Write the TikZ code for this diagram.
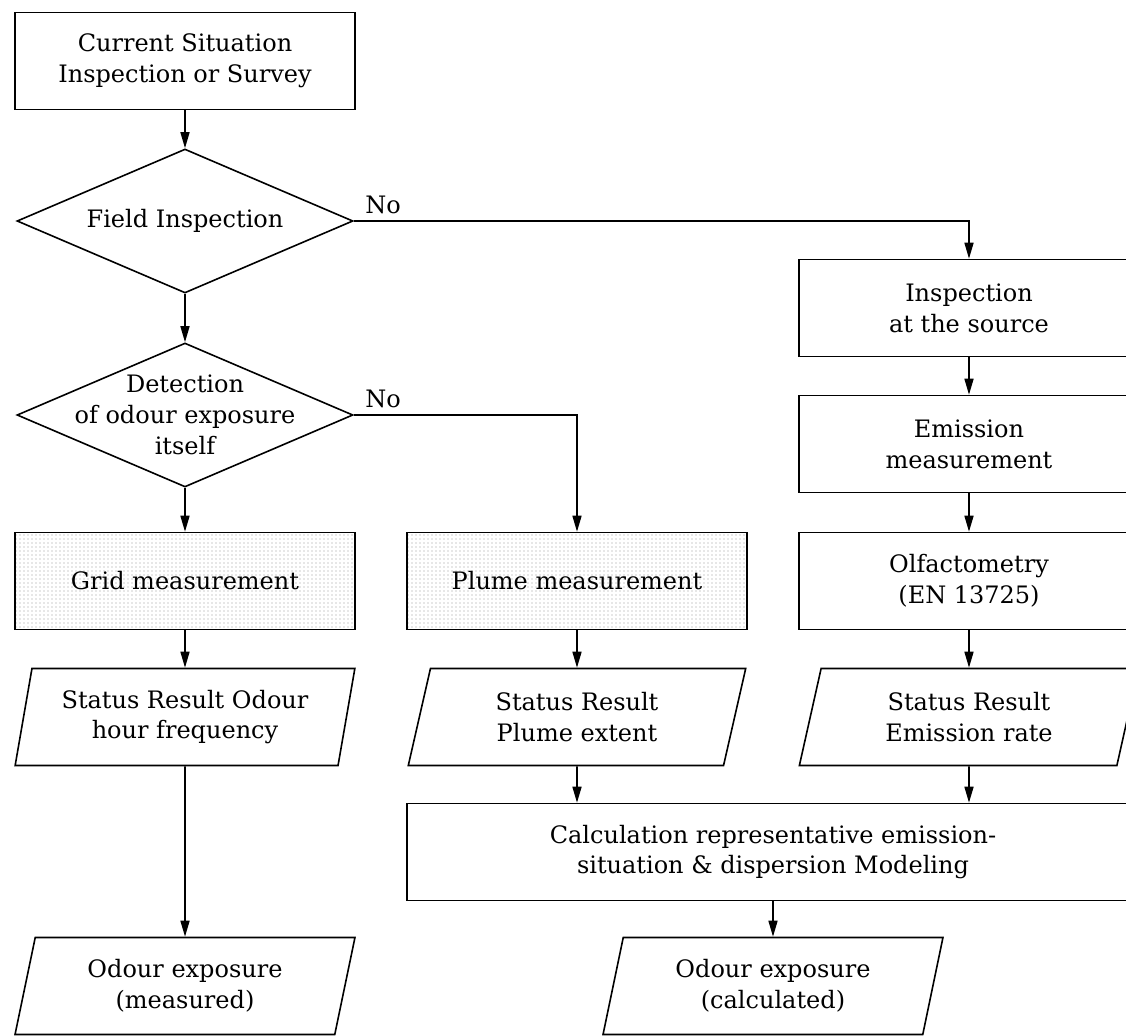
\documentclass[tikz,border=0pt]{standalone}
\usepackage{fontspec}
\setmainfont{DejaVu Serif}
\usetikzlibrary{shapes.geometric,arrows.meta,patterns.meta}

\begin{document}
\begin{tikzpicture}[x=0.5pt, y=-0.5pt,
		font=\fontsize{12}{15.4}\selectfont,
		every node/.style={align=center},
		box/.style={draw, thick, minimum width=170pt, minimum height=48.5pt, inner sep=2pt},
		dotbox/.style={box, pattern={Dots[distance=2pt,radius=0.35pt]}, pattern color=black!40},
		decision/.style={draw, thick, diamond, minimum width=168pt, minimum height=72pt, inner sep=0pt},
		result/.style={draw, thick, trapezium, trapezium left angle=76, trapezium right angle=104,
			trapezium stretches=true, minimum width=170pt, minimum height=48.5pt, inner sep=0pt},
		arr/.style={thick, -{Triangle[length=8pt,width=4.5pt]}}]
	
	\useasboundingbox (0,0) rectangle (1126,1035);
	
	\begin{scope}
		\node[box] (cur) at (185,61) {Current Situation\\Inspection or Survey};
		\node[decision, label={center:Field Inspection}] (field) at (185,221) {};
		\node[decision, label={center:Detection\\of odour exposure\\itself}] (det) at (185,415) {};
		\node[dotbox] (grid) at (185,581) {Grid measurement};
		\node[result] (res1) at (185,717) {Status Result Odour\\hour frequency};
		\node[result] (exp1) at (185,986) {Odour exposure\\(measured)};
	\end{scope}
	
	\begin{scope}
		\node[dotbox] (plume) at (577,581) {Plume measurement};
		\node[result] (res2) at (577,717) {Status Result\\Plume extent};
	\end{scope}
	
	\begin{scope}
		\node[box] (insp) at (969,308) {Inspection\\at the source};
		\node[box] (emis) at (969,444) {Emission\\measurement};
		\node[box] (olf) at (969,581) {Olfactometry\\(EN 13725)};
		\node[result] (res3) at (969,717) {Status Result\\Emission rate};
	\end{scope}
	
	\node[box, minimum width=366pt] (calc) at (773,852) {Calculation representative emission-\\situation \& dispersion Modeling};
	\node[result] (exp2) at (773,986) {Odour exposure\\(calculated)};
	
	\draw[arr] (cur) -- (field);
	\draw[arr] (field) -- (det);
	\draw[arr] (field.east) node[above right, xshift=2pt] {No} -| (insp);
	\draw[arr] (det.east) node[above right, xshift=2pt] {No} -| (plume);
	\draw[arr] (det) -- (grid);
	\draw[arr] (grid) -- (res1);
	\draw[arr] (res1) -- (exp1);
	\draw[arr] (plume) -- (res2);
	\draw[arr] (res2) -- (res2 |- calc.north);
	\draw[arr] (insp) -- (emis);
	\draw[arr] (emis) -- (olf);
	\draw[arr] (olf) -- (res3);
	\draw[arr] (res3) -- (res3 |- calc.north);
	\draw[arr] (calc) -- (exp2);
	
\end{tikzpicture}
\end{document}
